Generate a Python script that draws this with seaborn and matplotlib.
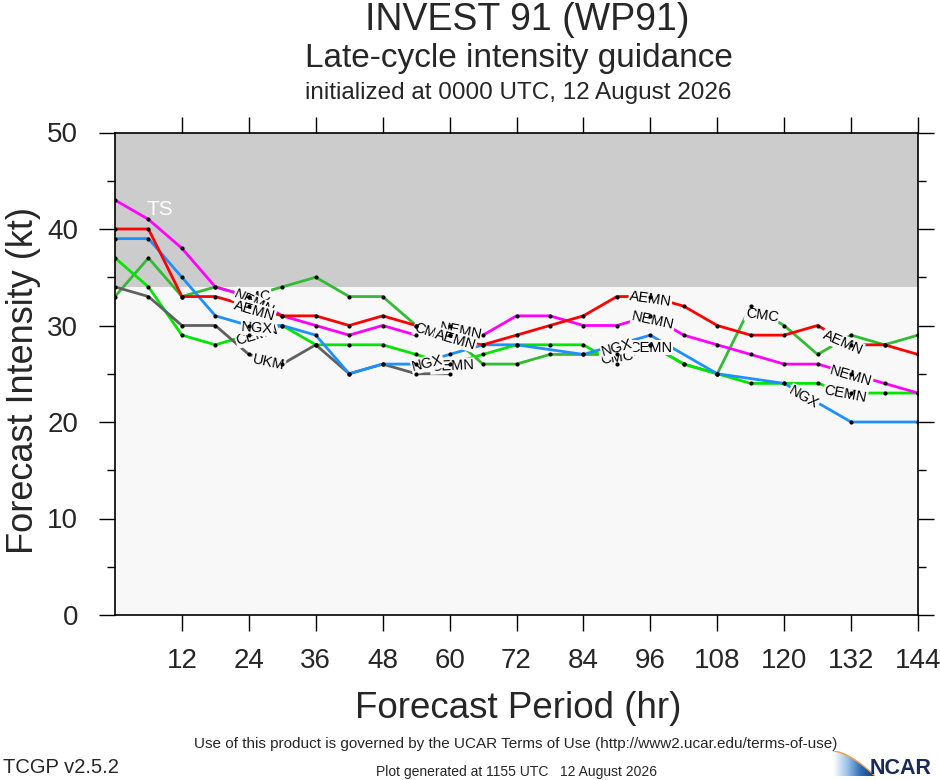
import numpy as np
import pandas as pd
import matplotlib
matplotlib.use("Agg")
import matplotlib.pyplot as plt
from matplotlib.path import Path
from matplotlib.patches import PathPatch
import seaborn as sns


# ============================================================
# DATA
# ============================================================

hours_6h = list(range(0, 145, 6))

aemn = [40, 40, 33, 33, 32, 31, 31, 30, 31, 30, 29, 28, 29,
        30, 31, 33, 33, 32, 30, 29, 29, 30, 28, 28, 27]
nemn = [43, 41, 38, 34, 33, 31, 30, 29, 30, 29, 30, 29, 31,
        31, 30, 30, 31, 29, 28, 27, 26, 26, 25, 24, 23]
cemn = [37, 34, 29, 28, 29, 30, 28, 28, 28, 27, 26, 27, 28,
        28, 28, 26, 28, 26, 25, 24, 24, 24, 23, 23, 23]
cmc = [33, 37, 33, 34, 33, 34, 35, 33, 33, 30, 29, 26, 26,
       27, 27, 27, 28, 26, 25, 32, 30, 27, 29, 28, 29]

ngx_hours = list(range(0, 73, 6)) + [84, 96, 108, 120, 132, 144]
ngx = [39, 39, 35, 31, 30, 30, 29, 25, 26, 26, 27, 28, 28,
       27, 29, 25, 24, 20, 20]

ukm_hours = list(range(0, 61, 6))
ukm = [34, 33, 30, 30, 27, 26, 28, 25, 26, 25, 25]

ts_threshold = 34

# draw order (first drawn is at the bottom)
models = ["CMC", "CEMN", "UKM", "NGX", "NEMN", "AEMN"]
model_hours = {"CMC": hours_6h, "CEMN": hours_6h, "UKM": ukm_hours,
               "NGX": ngx_hours, "NEMN": hours_6h, "AEMN": hours_6h}
model_values = {"CMC": cmc, "CEMN": cemn, "UKM": ukm,
                "NGX": ngx, "NEMN": nemn, "AEMN": aemn}

# where the in-line labels sit (forecast hour)
label_hours = {
    "CMC": [25, 56.5, 90, 116],
    "NEMN": [25, 62, 96.5, 132],
    "AEMN": [25, 61, 96, 130.5],
    "NGX": [25.5, 56, 90, 123.5],
    "CEMN": [25.5, 60.5, 96, 131],
    "UKM": [27.5],
}

colors = {"AEMN": "#ff0000", "NEMN": "#ff00ff", "NGX": "#1e90ff",
          "CEMN": "#00e600", "CMC": "#33bb33", "UKM": "#606060"}

rows = []
for m in models:
    for h, v in zip(model_hours[m], model_values[m]):
        rows.append({"model": m, "hour": h, "kt": v})
df = pd.DataFrame(rows)


# ============================================================
# FIGURE
# ============================================================

sns.set_style("ticks")
plt.rcParams["font.family"] = ["Liberation Sans", "DejaVu Sans"]

bg = "#f8f8f8"

fig = plt.figure(figsize=(9.4, 7.8), dpi=100)
ax = fig.add_axes([115 / 940, 1 - 615 / 780, 803 / 940, 482.5 / 780])
ax.set_facecolor(bg)
ax.set_xlim(0, 144)
ax.set_ylim(0, 50)

ax.axhspan(ts_threshold, 50, color="#cccccc", zorder=0, linewidth=0)
ax.text(8, 42, "TS", color="white", fontsize=15,
        ha="center", va="center", zorder=1)

sns.lineplot(
    data=df,
    x="hour",
    y="kt",
    hue="model",
    hue_order=models,
    palette=colors,
    estimator=None,
    sort=True,
    linewidth=2,
    legend=False,
    ax=ax,
    zorder=2
)

# in-line model labels, rotated along the line
for m in models:
    hh = model_hours[m]
    vv = model_values[m]
    for lh in label_hours[m]:
        lv = np.interp(lh, hh, vv)
        p1 = ax.transData.transform((lh - 3, np.interp(lh - 3, hh, vv)))
        p2 = ax.transData.transform((lh + 3, np.interp(lh + 3, hh, vv)))
        ang = np.degrees(np.arctan2(p2[1] - p1[1], p2[0] - p1[0]))
        ax.annotate(
            m, (lh, lv),
            xytext=(0, -2), textcoords="offset points",
            rotation=ang, rotation_mode="anchor",
            ha="center", va="center",
            fontsize=10.5, color="black", zorder=3,
            bbox=dict(boxstyle="square,pad=0.05", fc=bg, ec="none")
        )

sns.scatterplot(
    data=df,
    x="hour",
    y="kt",
    color="black",
    s=9,
    linewidth=0,
    legend=False,
    ax=ax,
    zorder=5
)

ax.set_xticks(range(12, 145, 12))
ax.set_yticks(range(0, 51, 10))
ax.set_yticks(range(5, 50, 10), minor=True)
ax.tick_params(which="both", direction="out", top=True, right=True,
               width=1.0, color="black", labelsize=20)
ax.tick_params(which="major", length=11.5)
ax.tick_params(which="minor", length=5.8)
ax.tick_params(axis="x", pad=12)
ax.tick_params(axis="y", pad=15)
for sp in ax.spines.values():
    sp.set_linewidth(1.2)
    sp.set_color("black")

ax.set_xlabel("Forecast Period (hr)", fontsize=26.5)
ax.set_ylabel("Forecast Intensity (kt)", fontsize=26)
ax.xaxis.label.set_va("baseline")
ax.yaxis.label.set_va("baseline")
ax.xaxis.set_label_coords(0.5025, -(718 - 615) / 482.5)
ax.yaxis.set_label_coords((33 - 115) / 803, (615 - 380) / 482.5)


# ============================================================
# TITLES AND FOOTER
# ============================================================

fig.text(527 / 940, 1 - 29.5 / 780, "INVEST 91 (WP91)",
         ha="center", va="baseline", fontsize=27)
fig.text(519 / 940, 1 - 67 / 780, "Late-cycle intensity guidance",
         ha="center", va="baseline", fontsize=24)
fig.text(518 / 940, 1 - 99 / 780, "initialized at 0000 UTC, 12 August 2026",
         ha="center", va="baseline", fontsize=17.5)

fig.text(516 / 940, 1 - 748 / 780,
         "Use of this product is governed by the UCAR Terms of Use "
         "(http://www2.ucar.edu/terms-of-use)",
         ha="center", va="baseline", fontsize=11)
fig.text(3 / 940, 1 - 773 / 780, "TCGP v2.5.2",
         ha="left", va="baseline", fontsize=14.5)
fig.text(516 / 940, 1 - 776 / 780,
         "Plot generated at 1155 UTC   12 August 2026",
         ha="center", va="baseline", fontsize=10)

# NCAR logo: gradient swoosh + wordmark
lax = fig.add_axes([833 / 940, 4 / 780, 42 / 940, 25 / 780])
lax.set_xlim(0, 1)
lax.set_ylim(0, 1)
lax.axis("off")
grad = np.linspace(0, 1, 64)[None, :]
cmap = matplotlib.colors.LinearSegmentedColormap.from_list(
    "swoosh", ["#ffffff", "#9cc3e6", "#2c6cb5", "#123c7a"])
img = lax.imshow(grad, extent=(0, 1, 0, 1), aspect="auto", cmap=cmap)
xs = np.linspace(0, 1, 40)
ys = 1 - xs ** 1.6
verts = [(0, 0)] + list(zip(xs, ys)) + [(1, 0), (0, 0)]
clip = PathPatch(Path(verts), transform=lax.transData, fc="none", ec="none")
lax.add_patch(clip)
img.set_clip_path(clip)
lax.plot(xs, ys, color="#f0a040", linewidth=1.0)

fig.text(870 / 940, 1 - 774 / 780, "NCAR", ha="left", va="baseline",
         fontsize=15.5, fontweight="bold", color="#1b2a55")

plt.savefig("out.png", dpi=100)
plt.close()
